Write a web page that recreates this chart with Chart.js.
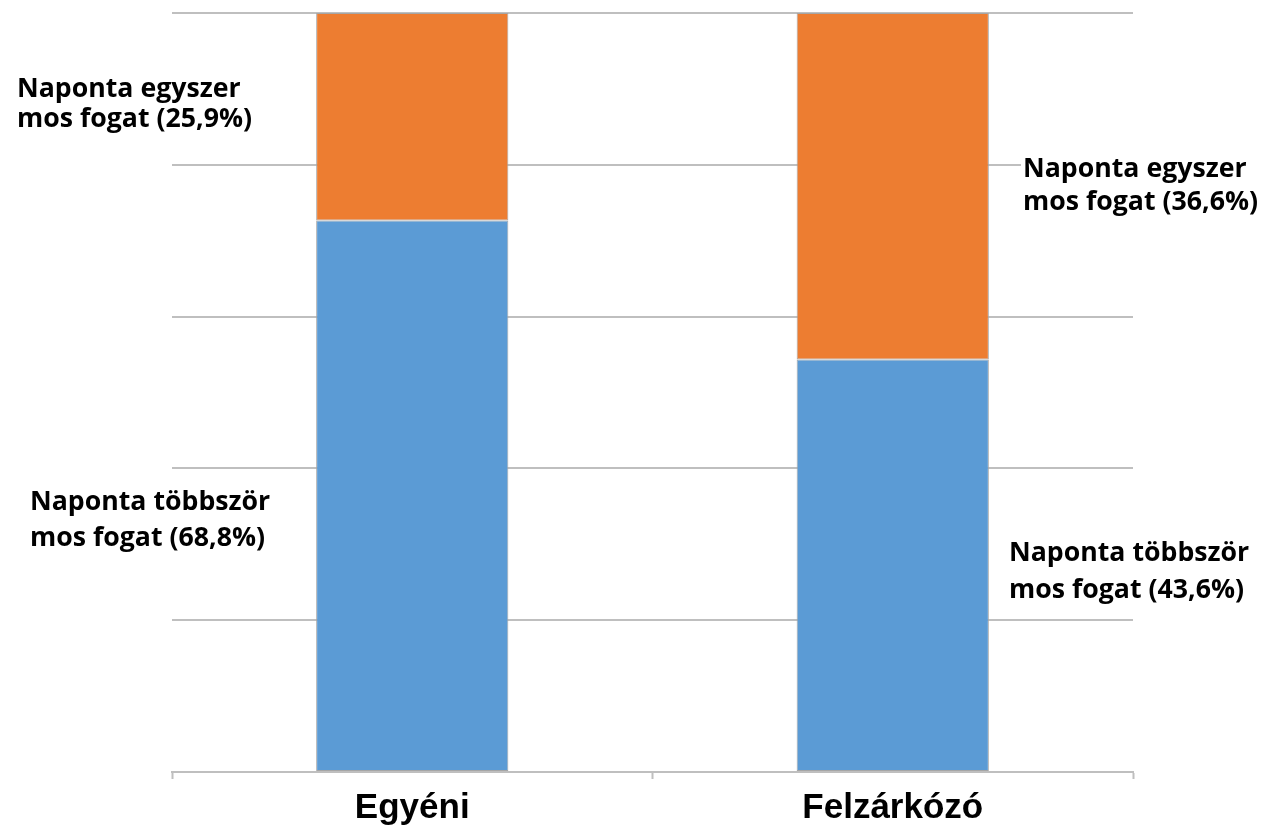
<!DOCTYPE html>
<html>
<head>
<meta charset="utf-8">
<script src="https://cdn.jsdelivr.net/npm/chart.js@4/dist/chart.umd.min.js"></script>
<style>
  html, body { margin: 0; padding: 0; background: #ffffff; }
  #wrap { width: 1265px; height: 826px; position: relative; }
</style>
</head>
<body>
<div id="wrap"><canvas id="c" width="1265" height="826"></canvas></div>
<script>
// ---- data ----
const categories = ['Egyéni', 'Felzárkózó'];
const seriesNames = ['Naponta többször mos fogat', 'Naponta egyszer mos fogat'];
const tobbszor = [68.8, 43.6];   // % naponta többször
const egyszer  = [25.9, 36.6];   // % naponta egyszer
const yTicks = [0, 20, 40, 60, 80, 100];

// 100% stacked: share of each segment within its bar
const totals = categories.map((_, i) => tobbszor[i] + egyszer[i]);
const tobbszorShare = tobbszor.map((v, i) => v / totals[i] * 100);
const egyszerShare  = egyszer.map((v, i) => v / totals[i] * 100);

const fmt = v => v.toFixed(1).replace('.', ',');

// label placement (pixels, layout only)
const labelSpots = {
  '1-0': { x: 17,   y: 97,  gap: 30, bg: false },
  '0-0': { x: 30,   y: 510, gap: 36, bg: false },
  '1-1': { x: 1023, y: 177, gap: 33, bg: true },
  '0-1': { x: 1009, y: 561, gap: 37, bg: false }
};
const labelFamily = '"Open Sans", "Noto Sans", sans-serif';
const targetWidth = 235;

const labelPlugin = {
  id: 'segLabels',
  afterDatasetsDraw(chart) {
    const ctx = chart.ctx;
    ctx.save();
    ctx.textBaseline = 'alphabetic';
    ctx.textAlign = 'left';
    const raw = [tobbszor, egyszer];
    const first = ['Naponta többször', 'Naponta egyszer'];
    // font size chosen so that the second line is ~targetWidth px wide
    ctx.font = 'bold 100px ' + labelFamily;
    const ref = ctx.measureText('mos fogat (25,9%)').width;
    const size = Math.round(100 * targetWidth / ref * 10) / 10;
    ctx.font = 'bold ' + size + 'px ' + labelFamily;
    for (let d = 0; d < 2; d++) {
      for (let i = 0; i < categories.length; i++) {
        const spot = labelSpots[d + '-' + i];
        const l1 = first[d];
        const l2 = 'mos fogat (' + fmt(raw[d][i]) + '%)';
        if (spot.bg) {
          const w = Math.max(ctx.measureText(l1).width, ctx.measureText(l2).width);
          ctx.fillStyle = '#ffffff';
          ctx.fillRect(spot.x - 2, spot.y - size * 0.8, w + 4, spot.gap + size);
        }
        ctx.fillStyle = '#000000';
        ctx.fillText(l1, spot.x, spot.y);
        ctx.fillText(l2, spot.x, spot.y + spot.gap);
      }
    }
    ctx.restore();
  }
};

new Chart(document.getElementById('c'), {
  type: 'bar',
  data: {
    labels: categories,
    datasets: [
      {
        label: seriesNames[0],
        data: tobbszorShare,
        backgroundColor: '#5B9BD5',
        borderColor: '#A6A6A6',
        borderWidth: 1,
        borderSkipped: false
      },
      {
        label: seriesNames[1],
        data: egyszerShare,
        backgroundColor: '#ED7D31',
        borderColor: '#A6A6A6',
        borderWidth: 1,
        borderSkipped: false
      }
    ]
  },
  options: {
    responsive: false,
    animation: false,
    devicePixelRatio: 1,
    layout: { padding: { left: 172, right: 132, top: 13, bottom: -12 } },
    plugins: {
      legend: { display: false },
      tooltip: { enabled: false },
      title: { display: false }
    },
    datasets: { bar: { categoryPercentage: 0.4, barPercentage: 1 } },
    scales: {
      x: {
        stacked: true,
        offset: true,
        grid: {
          offset: true,
          drawOnChartArea: false,
          drawTicks: true,
          tickLength: 7,
          tickColor: '#BFBFBF',
          tickWidth: 2
        },
        border: { display: true, color: '#BFBFBF', width: 2 },
        ticks: {
          color: '#000000',
          padding: 12,
          font: { family: '"Liberation Sans", Arial, sans-serif', size: 35, weight: 'bold', lineHeight: 1.0 }
        }
      },
      y: {
        stacked: true,
        min: 0,
        max: 100,
        afterBuildTicks(scale) { scale.ticks = yTicks.map(v => ({ value: v })); },
        ticks: { display: false },
        grid: { color: '#BFBFBF', lineWidth: 2, drawTicks: false },
        border: { display: false }
      }
    }
  },
  plugins: [labelPlugin]
});
</script>
</body>
</html>
